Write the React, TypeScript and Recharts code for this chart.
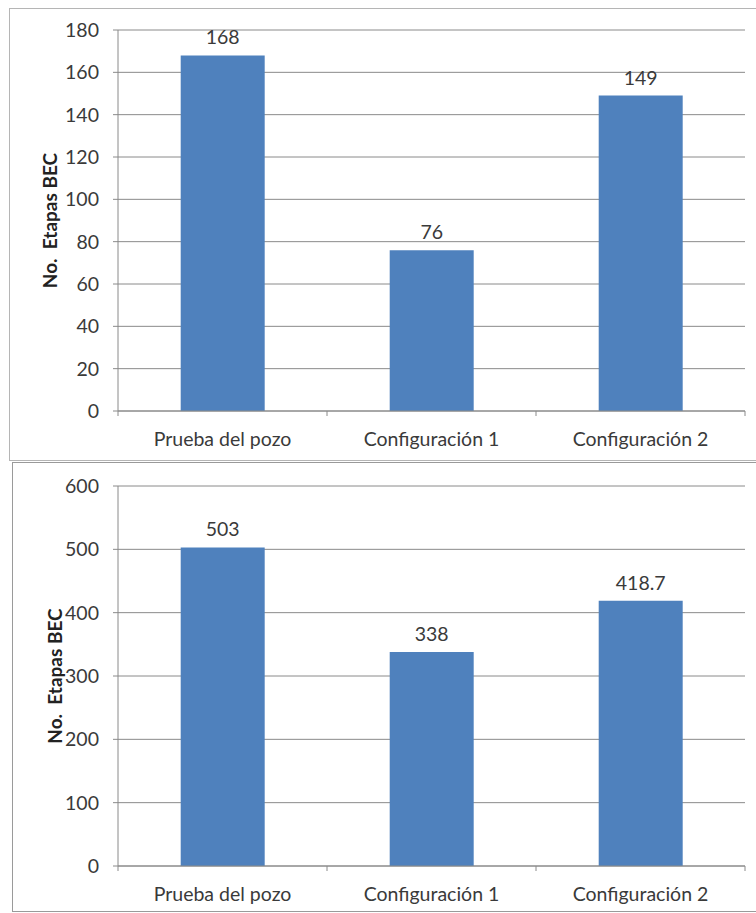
import React from "react";
import { BarChart, Bar, XAxis, YAxis, CartesianGrid, LabelList, Label } from "recharts";

const categories = ["Prueba del pozo", "Configuración 1", "Configuración 2"];
const etapasTop = [168, 76, 149];
const etapasBottom = [503, 338, 418.7];
const ticksTop = [0, 20, 40, 60, 80, 100, 120, 140, 160, 180];
const ticksBottom = [0, 100, 200, 300, 400, 500, 600];

const FONT = "Lato, 'Open Sans', sans-serif";
const FS = 19.5;
const TEXT = "#3a3a3a";
const GRID = "#8a8a8a";
const BAR = "#4f81bd";
const W = 756;

function makeTick(plotLeft: number, plotRight: number) {
  const band = (plotRight - plotLeft) / categories.length;
  return (props: any) => {
    const { x, y, payload, index } = props;
    return (
      <g>
        <line x1={x - band / 2} x2={x - band / 2} y1={y} y2={y + 5} stroke={GRID} />
        {index === categories.length - 1 && (
          <line x1={x + band / 2} x2={x + band / 2} y1={y} y2={y + 5} stroke={GRID} />
        )}
        <text x={x} y={y + 27} textAnchor="middle" dominantBaseline="central" fill={TEXT} fontSize={FS} fontFamily={FONT}>
          {payload.value}
        </text>
      </g>
    );
  };
}

interface PanelProps {
  values: number[];
  ticks: number[];
  height: number;
  marginTop: number;
  marginBottom: number;
  labelDx: number;
}

function Panel({ values, ticks, height, marginTop, marginBottom, labelDx }: PanelProps) {
  const data = categories.map((name, i) => ({ name, value: values[i] }));
  const left = 58;
  const yw = 60;
  const right = 11;
  return (
    <BarChart
      width={W}
      height={height}
      data={data}
      margin={{ top: marginTop, right, bottom: marginBottom, left }}
      barCategoryGap="30%"
    >
      <CartesianGrid vertical={false} stroke={GRID} />
      <XAxis
        dataKey="name"
        height={40}
        tickLine={false}
        tickSize={0}
        tickMargin={0}
        axisLine={{ stroke: GRID }}
        tick={makeTick(left + yw, W - right)}
        interval={0}
      />
      <YAxis
        width={yw}
        domain={[ticks[0], ticks[ticks.length - 1]]}
        ticks={ticks}
        interval={0}
        tickSize={5}
        tickMargin={14}
        tickLine={{ stroke: GRID }}
        axisLine={{ stroke: GRID }}
        tick={{ fill: TEXT, fontSize: FS, fontFamily: FONT }}
      >
        <Label
          value={"No.\u00a0\u00a0Etapas BEC"}
          angle={-90}
          position="insideLeft"
          dx={labelDx}
          style={{ textAnchor: "middle", fontWeight: 700, fontSize: 19, fontFamily: FONT, fill: "#222" }}
        />
      </YAxis>
      <Bar dataKey="value" fill={BAR} isAnimationActive={false}>
        <LabelList dataKey="value" position="top" offset={11} fill={TEXT} fontSize={FS} fontFamily={FONT} />
      </Bar>
    </BarChart>
  );
}

export default function App() {
  return (
    <div style={{ position: "absolute", left: 0, top: 0, width: W, height: 913, background: "#fff", overflow: "hidden" }}>
      <div style={{ position: "absolute", left: 9, top: 8, width: 760, height: 453, border: "1px solid #b5b5b5", boxSizing: "border-box" }} />
      <div style={{ position: "absolute", left: 12, top: 462, width: 760, height: 450, border: "1px solid #9a9a9a", boxSizing: "border-box" }} />
      <div style={{ position: "absolute", left: 0, top: 0 }}>
        <Panel values={etapasTop} ticks={ticksTop} height={462} marginTop={30} marginBottom={11} labelDx={-13} />
      </div>
      <div style={{ position: "absolute", left: 0, top: 464 }}>
        <Panel values={etapasBottom} ticks={ticksBottom} height={449} marginTop={22} marginBottom={7} labelDx={-8} />
      </div>
    </div>
  );
}
